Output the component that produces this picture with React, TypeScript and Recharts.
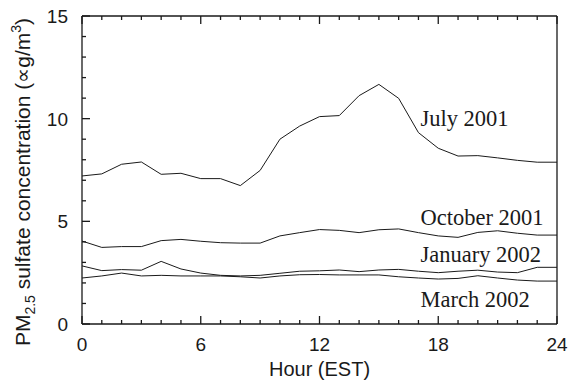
import { LineChart, Line, XAxis, YAxis, ReferenceDot } from 'recharts';

// hourly mean sulfate (µg/m3) for each sampling month
const hours = [0, 1, 2, 3, 4, 5, 6, 7, 8, 9, 10, 11, 12, 13, 14, 15, 16, 17, 18, 19, 20, 21, 22, 23, 24];
const july2001 = [7.21, 7.31, 7.78, 7.89, 7.29, 7.34, 7.08, 7.08, 6.74, 7.48, 9.0, 9.64, 10.1, 10.15, 11.12, 11.67, 10.99, 9.32, 8.56, 8.18, 8.2, 8.09, 7.97, 7.88, 7.88];
const october2001 = [4.04, 3.73, 3.77, 3.77, 4.06, 4.12, 4.03, 3.96, 3.94, 3.94, 4.29, 4.45, 4.6, 4.56, 4.45, 4.59, 4.63, 4.45, 4.29, 4.22, 4.46, 4.54, 4.42, 4.33, 4.33];
const january2002 = [2.83, 2.6, 2.65, 2.62, 3.05, 2.68, 2.48, 2.37, 2.34, 2.37, 2.47, 2.57, 2.59, 2.63, 2.55, 2.63, 2.66, 2.57, 2.5, 2.57, 2.62, 2.53, 2.5, 2.76, 2.76];
const march2002 = [2.24, 2.34, 2.48, 2.34, 2.37, 2.34, 2.34, 2.34, 2.3, 2.24, 2.34, 2.4, 2.41, 2.39, 2.39, 2.39, 2.3, 2.24, 2.19, 2.22, 2.35, 2.24, 2.14, 2.09, 2.09];

const hourTicks = hours;
const valueTicks = [0, 1, 2, 3, 4, 5, 6, 7, 8, 9, 10, 11, 12, 13, 14, 15];

// where each month's name sits (hour, concentration at baseline)
const seriesLabels = [
  { text: 'July 2001', hour: 17.1, value: 9.64 },
  { text: 'October 2001', hour: 17.1, value: 4.82 },
  { text: 'January 2002', hour: 17.1, value: 3.0 },
  { text: 'March 2002', hour: 17.1, value: 0.84 },
];

const data = hours.map((h, i) => ({
  hour: h,
  july: july2001[i],
  october: october2001[i],
  january: january2002[i],
  march: march2002[i],
}));

const SANS = '"Liberation Sans", Arial, sans-serif';
const SERIF = '"Liberation Serif", "Times New Roman", serif';
const INK = '#1a1a1a';
const TICK_W = 1.3;

// all four frame sides carry inward ticks; labelled ticks are longer
const BottomTick = ({ x, y, payload }: any) => {
  const major = payload.value % 6 === 0;
  return (
    <g>
      <line x1={x} y1={y} x2={x} y2={y - (major ? 8 : 4)} stroke={INK} strokeWidth={TICK_W} />
      {major && (
        <text x={x} y={y + 27} textAnchor="middle" fontFamily={SANS} fontSize={19} fill={INK}>
          {payload.value}
        </text>
      )}
    </g>
  );
};

const TopTick = ({ x, y, payload }: any) => {
  const major = payload.value % 6 === 0;
  return <line x1={x} y1={y} x2={x} y2={y + (major ? 8 : 4)} stroke={INK} strokeWidth={TICK_W} />;
};

const LeftTick = ({ x, y, payload }: any) => {
  const major = payload.value % 5 === 0;
  return (
    <g>
      <line x1={x} y1={y} x2={x + (major ? 8 : 4)} y2={y} stroke={INK} strokeWidth={TICK_W} />
      {major && (
        <text x={x - 14} y={y + 7} textAnchor="end" fontFamily={SANS} fontSize={19} fill={INK}>
          {payload.value}
        </text>
      )}
    </g>
  );
};

const RightTick = ({ x, y, payload }: any) => {
  const major = payload.value % 5 === 0;
  return <line x1={x} y1={y} x2={x - (major ? 8 : 4)} y2={y} stroke={INK} strokeWidth={TICK_W} />;
};

const YTitle = () => (
  <text
    x={30}
    y={182}
    textAnchor="middle"
    transform="rotate(-90, 30, 182)"
    fontFamily={SANS}
    fontSize={21}
    fill={INK}
  >
    PM
    <tspan fontSize={14} dy={5}>2.5</tspan>
    <tspan dy={-5}> sulfate concentration (∝g/m</tspan>
    <tspan fontSize={14} dy={-9}>3</tspan>
    <tspan dy={9}>)</tspan>
  </text>
);

const XTitle = () => (
  <text x={319.5} y={376} textAnchor="middle" fontFamily={SANS} fontSize={20} fill={INK}>
    Hour (EST)
  </text>
);

const SeriesName = ({ cx, cy, text }: any) => (
  <text x={cx} y={cy} fontFamily={SERIF} fontSize={22.5} fill={INK}>
    {text}
  </text>
);

const frame = { stroke: INK, strokeWidth: 1.3 };

export default function App() {
  return (
    <div style={{ position: 'absolute', left: 0, top: 0, background: '#fff' }}>
      <LineChart width={569} height={381} data={data} margin={{ top: 15, right: 11, bottom: 56, left: 0 }}>
        <XAxis
          dataKey="hour"
          type="number"
          domain={[0, 24]}
          ticks={hourTicks}
          interval={0}
          height={1}
          tickSize={0}
          tickMargin={0}
          tickLine={false}
          tick={<BottomTick />}
          axisLine={frame}
          label={<XTitle />}
        />
        <XAxis
          xAxisId="top"
          orientation="top"
          dataKey="hour"
          type="number"
          domain={[0, 24]}
          ticks={hourTicks}
          interval={0}
          height={1}
          tickSize={0}
          tickMargin={0}
          tickLine={false}
          tick={<TopTick />}
          axisLine={frame}
        />
        <YAxis
          type="number"
          domain={[0, 15]}
          ticks={valueTicks}
          interval={0}
          width={82}
          tickSize={0}
          tickMargin={0}
          tickLine={false}
          tick={<LeftTick />}
          axisLine={frame}
          label={<YTitle />}
        />
        <YAxis
          yAxisId="right"
          orientation="right"
          type="number"
          domain={[0, 15]}
          ticks={valueTicks}
          interval={0}
          width={1}
          tickSize={0}
          tickMargin={0}
          tickLine={false}
          tick={<RightTick />}
          axisLine={frame}
        />
        <Line type="linear" dataKey="july" stroke={INK} strokeWidth={1} dot={false} isAnimationActive={false} />
        <Line type="linear" dataKey="october" stroke={INK} strokeWidth={1} dot={false} isAnimationActive={false} />
        <Line type="linear" dataKey="january" stroke={INK} strokeWidth={1} dot={false} isAnimationActive={false} />
        <Line type="linear" dataKey="march" stroke={INK} strokeWidth={1} dot={false} isAnimationActive={false} />
        {seriesLabels.map((s) => (
          <ReferenceDot
            key={s.text}
            x={s.hour}
            y={s.value}
            r={0}
            shape={(props: any) => <SeriesName {...props} text={s.text} />}
          />
        ))}
      </LineChart>
    </div>
  );
}
